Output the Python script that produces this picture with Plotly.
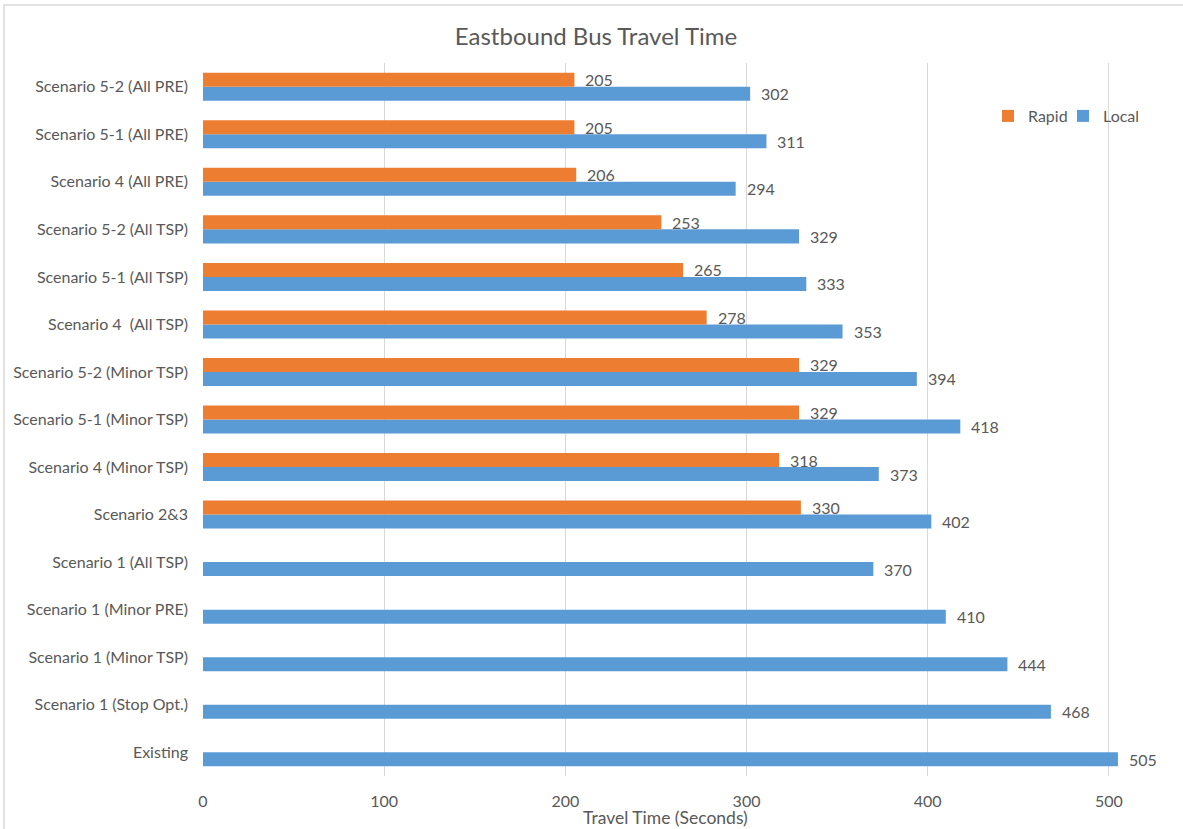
import plotly.graph_objects as go

categories = [
    "Existing",
    "Scenario 1 (Stop Opt.)",
    "Scenario 1 (Minor TSP)",
    "Scenario 1 (Minor PRE)",
    "Scenario 1 (All TSP)",
    "Scenario 2&3",
    "Scenario 4 (Minor TSP)",
    "Scenario 5-1 (Minor TSP)",
    "Scenario 5-2 (Minor TSP)",
    "Scenario 4  (All TSP)",
    "Scenario 5-1 (All TSP)",
    "Scenario 5-2 (All TSP)",
    "Scenario 4 (All PRE)",
    "Scenario 5-1 (All PRE)",
    "Scenario 5-2 (All PRE)",
]
local = [505, 468, 444, 410, 370, 402, 373, 418, 394, 353, 333, 329, 294, 311, 302]
rapid = [None, None, None, None, None, 330, 318, 329, 329, 278, 265, 253, 206, 205, 205]
x_ticks = [0, 100, 200, 300, 400, 500]

TEXT = "#595959"
FONT = "Lato"
W, H = 1183, 829
ML, MR, MT, MB = 203, 56, 63, 53

fig = go.Figure()
fig.add_trace(go.Bar(
    y=categories, x=local, orientation="h", name="Local",
    marker=dict(color="#5B9BD5", line=dict(width=0)),
))
fig.add_trace(go.Bar(
    y=categories, x=rapid, orientation="h", name="Rapid",
    marker=dict(color="#ED7D31", line=dict(width=0)),
))

annotations = []
for c, v in zip(categories, local):
    annotations.append(dict(x=v, y=c, xref="x", yref="y", text=str(v), showarrow=False,
                            xanchor="left", yanchor="middle", xshift=9, yshift=-7,
                            font=dict(family=FONT, size=16, color=TEXT)))
for c, v in zip(categories, rapid):
    if v is None:
        continue
    annotations.append(dict(x=v, y=c, xref="x", yref="y", text=str(v), showarrow=False,
                            xanchor="left", yanchor="middle", xshift=9, yshift=7,
                            font=dict(family=FONT, size=16, color=TEXT)))

pw = W - ML - MR
ph = H - MT - MB
annotations.append(dict(x=0.5, y=-(817 - (H - MB)) / ph, xref="paper", yref="paper",
                        text="Travel Time (Seconds)", showarrow=False,
                        xanchor="center", yanchor="middle",
                        font=dict(family=FONT, size=17.5, color=TEXT)))

fig.update_layout(
    width=W, height=H,
    margin=dict(l=ML, r=MR, t=MT, b=MB, autoexpand=False),
    paper_bgcolor="white", plot_bgcolor="white",
    barmode="group", bargap=0.41, bargroupgap=0,
    title=dict(text="Eastbound Bus Travel Time", x=596 / W, xref="container",
               y=1 - 37 / H, yref="container", xanchor="center", yanchor="middle",
               font=dict(family=FONT, size=24, color=TEXT)),
    font=dict(family=FONT, size=16, color=TEXT),
    legend=dict(orientation="h", traceorder="reversed", x=(988 - ML) / pw, xanchor="left",
                y=1 - (116 - MT) / ph, yanchor="middle", bgcolor="rgba(0,0,0,0)",
                font=dict(family=FONT, size=16, color=TEXT), itemwidth=30,
                entrywidth=30, entrywidthmode="pixels", tracegroupgap=0),
    annotations=annotations,
    showlegend=True,
)
fig.update_xaxes(range=[0, 510], tickvals=x_ticks, showgrid=True, gridcolor="#D9D9D9",
                 gridwidth=1, zeroline=False, showline=False, ticks="",
                 ticklabelstandoff=14, tickfont=dict(family=FONT, size=16, color=TEXT))
fig.update_yaxes(categoryorder="array", categoryarray=categories, showgrid=False,
                 zeroline=False, showline=False, ticks="", ticklabelstandoff=14,
                 tickfont=dict(family=FONT, size=16, color=TEXT))

fig.add_shape(type="rect", xref="paper", yref="paper",
              x0=(4 - ML) / pw, x1=(1190 - ML) / pw,
              y0=-(840 - (H - MB)) / ph, y1=1 + (MT - 5) / ph,
              line=dict(color="#D9D9D9", width=1.5), fillcolor="rgba(0,0,0,0)", layer="below")

fig.write_html("out.html")
